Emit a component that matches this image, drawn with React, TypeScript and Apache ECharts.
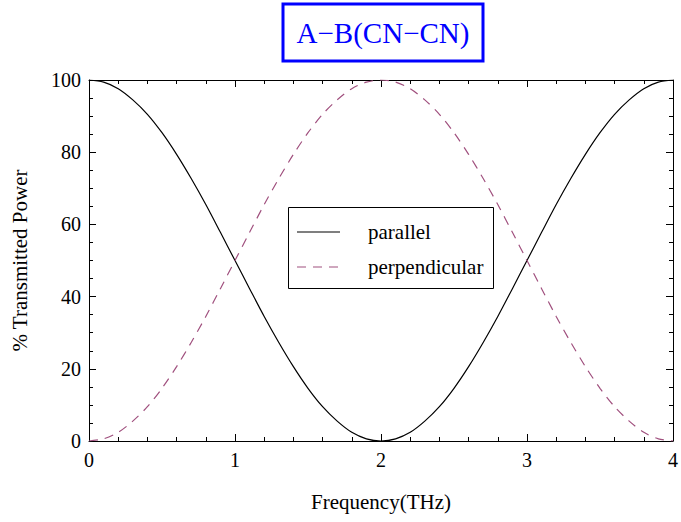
import React, { useEffect, useRef } from "react";
import * as echarts from "echarts";

const frequency = [0, 0.1, 0.2, 0.3, 0.4, 0.5, 0.6, 0.7, 0.8, 0.9, 1, 1.1, 1.2, 1.3, 1.4, 1.5, 1.6, 1.7, 1.8, 1.9, 2, 2.1, 2.2, 2.3, 2.4, 2.5, 2.6, 2.7, 2.8, 2.9, 3, 3.1, 3.2, 3.3, 3.4, 3.5, 3.6, 3.7, 3.8, 3.9, 4];
const parallel = [100, 99.4, 97.6, 94.5, 90.5, 85.4, 79.4, 72.7, 65.5, 57.8, 50, 42.2, 34.5, 27.3, 20.6, 14.6, 9.5, 5.5, 2.4, 0.6, 0, 0.6, 2.4, 5.5, 9.5, 14.6, 20.6, 27.3, 34.5, 42.2, 50, 57.8, 65.5, 72.7, 79.4, 85.4, 90.5, 94.5, 97.6, 99.4, 100];
const perpendicular = [0, 0.6, 2.4, 5.5, 9.5, 14.6, 20.6, 27.3, 34.5, 42.2, 50, 57.8, 65.5, 72.7, 79.4, 85.4, 90.5, 94.5, 97.6, 99.4, 100, 99.4, 97.6, 94.5, 90.5, 85.4, 79.4, 72.7, 65.5, 57.8, 50, 42.2, 34.5, 27.3, 20.6, 14.6, 9.5, 5.5, 2.4, 0.6, 0];
const seriesNames = ["parallel", "perpendicular"];
const title = "A\u2212B(CN\u2212CN)";
const xLabel = "Frequency(THz)";
const yLabel = "% Transmitted Power";

const FONT = "Liberation Serif";
const PERP_COLOR = "#a0507e";
const DASH = [9, 7];

export default function App() {
  const ref = useRef<HTMLDivElement>(null);
  useEffect(() => {
    if (!ref.current) return;
    const chart = echarts.init(ref.current, undefined, { renderer: "svg" });
    const axisCommon = {
      axisLine: { show: true, onZero: false, lineStyle: { color: "#000", width: 1 } },
      axisTick: { show: true, inside: true, length: 7, lineStyle: { color: "#000" } },
      minorTick: { show: true, length: 4, lineStyle: { color: "#000" } },
      splitLine: { show: false },
    };
    chart.setOption({
      animation: false,
      backgroundColor: "#fff",
      grid: { left: 89, right: 4, top: 80, bottom: 81 },
      graphic: [
        {
          type: "rect",
          shape: { x: 283, y: 4, width: 200, height: 57 },
          style: { fill: "#fff", stroke: "#0000ff", lineWidth: 3 },
        },
        {
          type: "text",
          x: 383,
          y: 33,
          style: {
            text: title,
            fill: "#0000ff",
            font: `29px '${FONT}'`,
            align: "center",
            verticalAlign: "middle",
          },
        },
        {
          type: "group",
          z: 100,
          children: [
            {
              type: "rect",
              shape: { x: 288.5, y: 207.5, width: 205, height: 81 },
              style: { fill: "#fff", stroke: "#000", lineWidth: 1 },
            },
            {
              type: "line",
              shape: { x1: 297, y1: 232, x2: 340, y2: 232 },
              style: { stroke: "#000", lineWidth: 1.2 },
            },
            {
              type: "text",
              x: 368,
              y: 232,
              style: { text: seriesNames[0], fill: "#000", font: `21px '${FONT}'`, verticalAlign: "middle" },
            },
            {
              type: "line",
              shape: { x1: 297, y1: 267, x2: 340, y2: 267 },
              style: { stroke: PERP_COLOR, lineWidth: 1.2, lineDash: DASH },
            },
            {
              type: "text",
              x: 368,
              y: 267,
              style: { text: seriesNames[1], fill: "#000", font: `21px '${FONT}'`, verticalAlign: "middle" },
            },
          ],
        },
      ],
      xAxis: [
        {
          type: "value",
          min: 0,
          max: 4,
          interval: 1,
          position: "bottom",
          ...axisCommon,
          minorTick: { ...axisCommon.minorTick, splitNumber: 5 },
          axisLabel: { fontFamily: FONT, fontSize: 20, color: "#000", margin: 9 },
          name: xLabel,
          nameLocation: "middle",
          nameGap: 50,
          nameTextStyle: { fontFamily: FONT, fontSize: 21, color: "#000" },
        },
        {
          type: "value",
          min: 0,
          max: 4,
          interval: 1,
          position: "top",
          ...axisCommon,
          minorTick: { ...axisCommon.minorTick, splitNumber: 5 },
          axisLabel: { show: false },
        },
      ],
      yAxis: [
        {
          type: "value",
          min: 0,
          max: 100,
          interval: 20,
          position: "left",
          ...axisCommon,
          minorTick: { ...axisCommon.minorTick, splitNumber: 4 },
          axisLabel: { fontFamily: FONT, fontSize: 20, color: "#000", margin: 8 },
          name: yLabel,
          nameLocation: "middle",
          nameGap: 59,
          nameTextStyle: { fontFamily: FONT, fontSize: 21, color: "#000" },
        },
        {
          type: "value",
          min: 0,
          max: 100,
          interval: 20,
          position: "right",
          ...axisCommon,
          minorTick: { ...axisCommon.minorTick, splitNumber: 4 },
          axisLabel: { show: false },
        },
      ],
      series: [
        {
          name: seriesNames[0],
          type: "line",
          data: frequency.map((f, i) => [f, parallel[i]]),
          symbol: "none",
          smooth: 0.3,
          lineStyle: { color: "#000", width: 1.2 },
          itemStyle: { color: "#000" },
        },
        {
          name: seriesNames[1],
          type: "line",
          data: frequency.map((f, i) => [f, perpendicular[i]]),
          symbol: "none",
          smooth: 0.3,
          lineStyle: { color: PERP_COLOR, width: 1.2, type: DASH },
          itemStyle: { color: PERP_COLOR },
        },
      ],
    });
    return () => chart.dispose();
  }, []);
  return <div ref={ref} style={{ width: 681, height: 522, position: "absolute", left: 0, top: 0 }} />;
}
